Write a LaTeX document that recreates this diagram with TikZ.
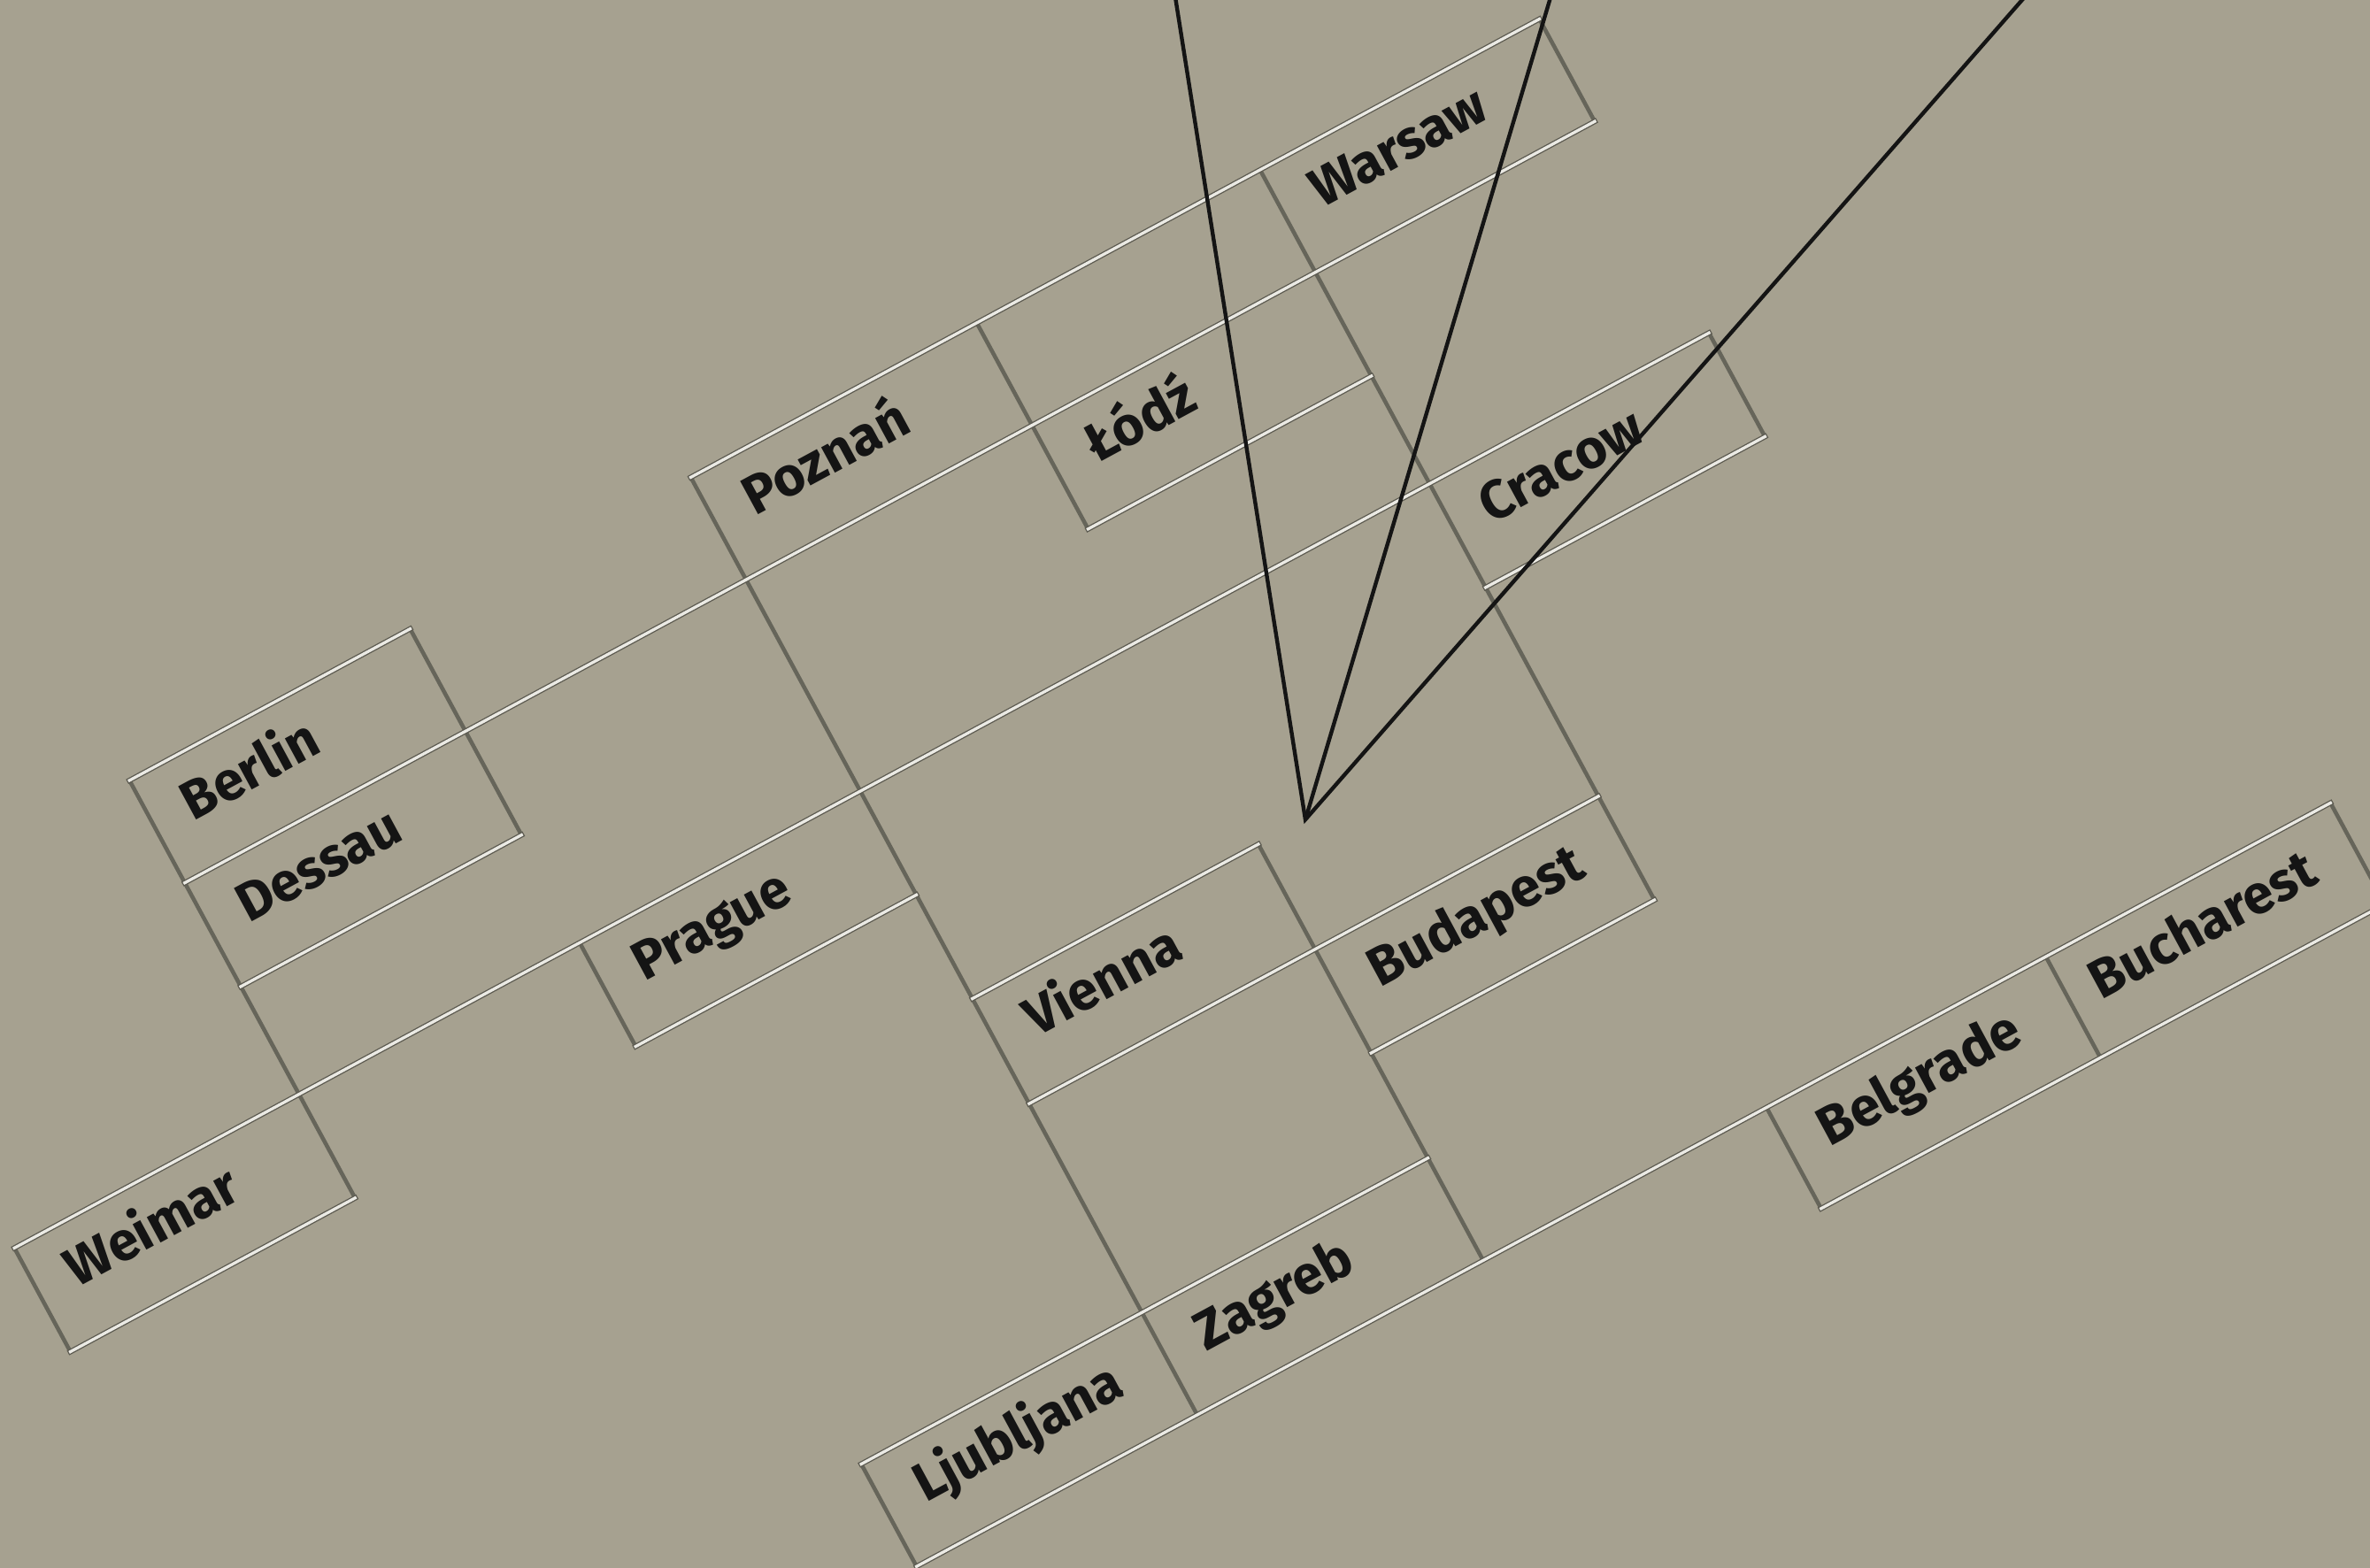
\documentclass[tikz,border=0pt]{standalone}
\usepackage{fontspec}
\setmainfont{Fira Sans}[BoldFont={Fira Sans Bold}]
\definecolor{paper}{HTML}{A6A190}
\definecolor{silver}{HTML}{EBEAE4}
\definecolor{silvershadow}{HTML}{5C5A50}
\definecolor{groove}{HTML}{66655A}
\definecolor{ink}{HTML}{141414}
\tikzset{
  hline/.style={draw=silvershadow, line width=1.7pt, line cap=rect,
    postaction={draw=silver, line width=0.95pt}},
  vline/.style={draw=groove, line width=1.3pt, line cap=rect},
  city/.style={anchor=base west, inner sep=0pt, rotate=28.4, text=ink,
    font=\fontsize{17.5}{20}\selectfont\bfseries},
  ray/.style={draw=ink, line width=1.25pt, line join=miter}
}
\begin{document}
\begin{tikzpicture}
\useasboundingbox (0,0) rectangle (26.78,17.72);
\fill[paper] (0,0) rectangle (26.78,17.72);
\clip (0,0) rectangle (26.78,17.72);
\begin{scope}[shift={(0,17.72)}, x={(0.015024cm,0.008124cm)}, y={(0.008124cm,-0.015024cm)}]
  % grid points: columns c0..c7, rows r0..r10
  \foreach \c/\u in {0/-384,1/-170,2/41,3/252,4/467,5/680,6/890,7/1104}{
    \foreach \r/\v in {0/495,1/572,2/650,3/731,4/809,5/887,6/966,7/1044,8/1123,9/1200,10/1276}{
      \coordinate (p\c-\r) at (\u,\v);
    }
  }
  % dark grooves (down-right direction)
  \draw[vline] (p0-3) -- (p0-4);
  \draw[vline] (p1-0) -- (p1-4);
  \draw[vline] (p2-0) -- (p2-2);
  \draw[vline] (p2-3) -- (p2-4);
  \draw[vline] (p2-8) -- (p2-9);
  \draw[vline] (p3-0) -- (p3-9);
  \draw[vline] (p4-0) -- (p4-2);
  \draw[vline] (p4-5) -- (p4-9);
  \draw[vline] (p5-0) -- (p5-7);
  \draw[vline] (p5-9) -- (p5-10);
  \draw[vline] (p6-0) -- (p6-1);
  \draw[vline] (p6-3) -- (p6-4);
  \draw[vline] (p6-9) -- (p6-10);
  \draw[vline] (p7-9) -- (p7-10);
  % silver lines (up-right direction)
  \draw[hline] (p1-0) -- (p2-0);
  \draw[hline] (p3-0) -- (p6-0);
  \draw[hline] (p1-1) -- (p6-1);
  \draw[hline] (p1-2) -- (p2-2);
  \draw[hline] (p4-2) -- (p5-2);
  \draw[hline] (p0-3) -- (p6-3);
  \draw[hline] (p0-4) -- (p1-4);
  \draw[hline] (p2-4) -- (p3-4);
  \draw[hline] (p5-4) -- (p6-4);
  \draw[hline] (p3-5) -- (p4-5);
  \draw[hline] (p3-6) -- (p5-6);
  \draw[hline] (p4-7) -- (p5-7);
  \draw[hline] (p2-8) -- (p4-8);
  \draw[hline] (p2-9) -- (p7-9);
  \draw[hline] (p5-10) -- (p7-10);
  % labels
  \node[city] (berlin)    at (-146,539)  {Berlin};
  \node[city] (dessau)    at (-146,616)  {Dessau};
  \node[city] (weimar)    at (-360,774)  {Weimar};
  \node[city] (prague)    at (66,774)    {Prague};
  \node[city] (poznan)    at (277,538)   {Poznań};
  \node[city] (lodz)      at (492,615)   {Łódź};
  \node[city] (warsaw)    at (704,537)   {Warsaw};
  \node[city] (cracow)    at (703,774)   {Cracow};
  \node[city] (vienna)    at (277,930)   {Vienna};
  \node[city] (budapest)  at (492,1009)  {Budapest};
  \node[city] (ljubljana) at (66,1166)   {Ljubljana};
  \node[city] (zagreb)    at (277,1166)  {Zagreb};
  \node[city] (belgrade)  at (704,1243)  {Belgrade};
  \node[city] (bucharest) at (908,1243)  {Bucharest};
\end{scope}
% black rays
\coordinate (hub) at (14.750,8.458);
\coordinate (rayA) at (13.238,18.02);
\coordinate (rayB) at (17.601,18.02);
\coordinate (rayC) at (23.111,18.02);
\draw[ray] (rayA) -- (hub) -- (rayC);
\draw[ray] (hub) -- (rayB);
\end{tikzpicture}
\end{document}
